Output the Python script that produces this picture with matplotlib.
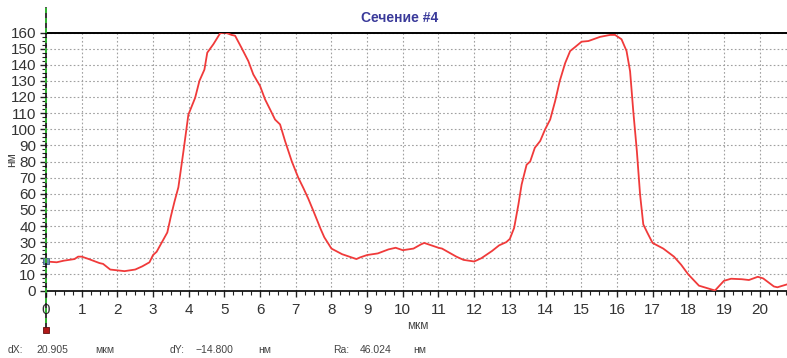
import matplotlib
matplotlib.use('Agg')
import matplotlib.pyplot as plt
from matplotlib.ticker import MultipleLocator
from matplotlib.lines import Line2D

FONT = ['Liberation Sans Narrow', 'Liberation Sans', 'DejaVu Sans']
plt.rcParams['font.family'] = FONT

# profile section #4 (x in мкм, y in нм)
x = [0.0, 0.3, 0.5, 0.8, 0.9, 1.0, 1.2, 1.5, 1.6, 1.8, 2.0, 2.2, 2.5, 2.7, 2.9,
     3.0, 3.1, 3.3, 3.4, 3.5, 3.6, 3.71, 3.85, 3.99, 4.18, 4.30, 4.44, 4.52, 4.69,
     4.88, 5.02, 5.2, 5.3, 5.48, 5.67, 5.81, 6.0, 6.14, 6.28, 6.42, 6.56, 6.7, 6.89,
     7.07, 7.21, 7.35, 7.5, 7.7, 7.8, 8.0, 8.3, 8.5, 8.7, 8.8, 9.0, 9.3, 9.6, 9.8,
     10.0, 10.3, 10.5, 10.6, 10.8, 11.0, 11.1, 11.3, 11.5, 11.7, 12.0, 12.2, 12.5,
     12.7, 12.9, 13.0, 13.12, 13.24, 13.33, 13.47, 13.57, 13.7, 13.85, 13.99, 14.13,
     14.27, 14.4, 14.55, 14.69, 14.83, 15.01, 15.2, 15.53, 15.81, 15.95, 16.13, 16.27,
     16.37, 16.46, 16.56, 16.65, 16.74, 16.85, 17.0, 17.3, 17.6, 17.8, 18.0, 18.3,
     18.6, 18.75, 19.0, 19.2, 19.5, 19.7, 19.95, 20.1, 20.4, 20.5, 20.8]
y = [18.0, 17.5, 18.5, 19.5, 21.0, 21.0, 19.5, 17.0, 16.5, 13.0, 12.5, 12.0, 13.0, 15.0, 17.5,
     22.0, 24.0, 32.0, 36.0, 46.0, 55.0, 64.0, 86.0, 109.0, 119.5, 130.0, 137.0, 147.5, 152.7,
     159.5, 160.0, 158.5, 158.0, 150.5, 142.3, 134.0, 126.8, 118.5, 112.3, 106.0, 103.0, 92.7, 80.0,
     70.0, 63.7, 57.0, 49.0, 38.0, 33.0, 26.0, 22.5, 21.0, 19.5, 20.5, 22.0, 23.0, 25.5, 26.5,
     25.0, 26.0, 28.5, 29.5, 28.0, 26.5, 26.0, 23.5, 21.0, 19.0, 18.0, 20.0, 24.5,
     28.0, 30.0, 32.0, 38.8, 53.3, 65.7, 78.0, 80.0, 88.5, 92.7, 100.0, 106.0,
     117.5, 130.0, 141.0, 148.5, 151.0, 154.3, 154.7, 157.3, 158.5, 158.5, 155.8, 148.6,
     136.0, 111.0, 86.5, 59.5, 41.0, 36.0, 29.5, 26.0, 21.0, 16.0, 10.0, 3.0,
     1.0, 0.0, 6.0, 7.3, 7.0, 6.5, 8.5, 7.5, 2.5, 2.0, 4.0]

dx_text = '20.905'
dy_text = '\u221214.800'
ra_text = '46.024'

W, H = 787, 358
fig = plt.figure(figsize=(W / 100, H / 100), dpi=100, facecolor='white')
L, R, T, B = 46, 787, 32.5, 290.5
ax = fig.add_axes([L / W, 1 - B / H, (R - L) / W, (B - T) / H])

ax.plot(x, y, color='#f03a3a', lw=1.3, solid_joinstyle='round', zorder=3)
ax.set_xlim(0, (R - L) / 35.68)
ax.set_ylim(0, 160)

ax.xaxis.set_major_locator(MultipleLocator(1))
ax.xaxis.set_minor_locator(MultipleLocator(0.25))
ax.yaxis.set_major_locator(MultipleLocator(10))
ax.yaxis.set_minor_locator(MultipleLocator(2.5))
ax.grid(True, which='major', color='#a0a0a0', ls=(0, (1.5, 2)), lw=0.8)
ax.set_axisbelow(True)

ax.spines['right'].set_visible(False)
ax.spines['left'].set_visible(False)
ax.spines['top'].set_linewidth(1.4)
ax.spines['bottom'].set_linewidth(1.2)

ax.tick_params(which='major', direction='out', length=4, width=1, color='#222222',
               labelsize=11, labelcolor='#333333', pad=3)
ax.tick_params(which='minor', direction='out', length=3, width=0.8, color='#222222')
ax.tick_params(axis='x', which='both', top=False)
ax.tick_params(axis='x', pad=5)
for lab in ax.get_xticklabels() + ax.get_yticklabels():
    lab.set_family(FONT)

# left marker line: black with green dashes, from above top to below the axis
fx = L / W
for col, ls in [('#111111', '-'), ('#33cc33', (0, (3, 3)))]:
    fig.add_artist(Line2D([fx, fx], [1 - 8 / H, 1 - 330 / H], transform=fig.transFigure,
                          color=col, lw=1.2, ls=ls, zorder=10))
fig.add_artist(Line2D([fx], [1 - 330 / H], transform=fig.transFigure, marker='s',
                      ms=4.5, mfc='#b01818', mec='#601010', mew=0.6, ls='none', zorder=12))
ax.plot([0], [y[0]], marker='s', ms=4.5, mfc='#6f8fb0', mec='#3f5f7f', mew=0.6,
        ls='none', clip_on=False, zorder=12)

fig.text(400 / W, 1 - 18 / H, 'Сечение #4', ha='center', va='center', fontsize=10,
         fontweight='bold', color='#3a3a9a', family=FONT)
fig.text(418 / W, 1 - 326 / H, 'мкм', ha='center', va='center', fontsize=8.5,
         color='#444444', family=FONT)
fig.text(12 / W, 1 - 160 / H, 'нм', ha='center', va='center', fontsize=8.5,
         rotation=90, color='#444444', family=FONT)

by = 1 - 350 / H
for px, s in [(8, 'dX:'), (36, dx_text), (95, 'мкм'), (170, 'dY:'), (195, dy_text),
              (258, 'нм'), (333, 'Ra:'), (360, ra_text), (413, 'нм')]:
    fig.text(px / W, by, s, ha='left', va='center', fontsize=7.5, color='#444444',
             family=FONT)

fig.savefig('out.png', dpi=100, facecolor='white')
